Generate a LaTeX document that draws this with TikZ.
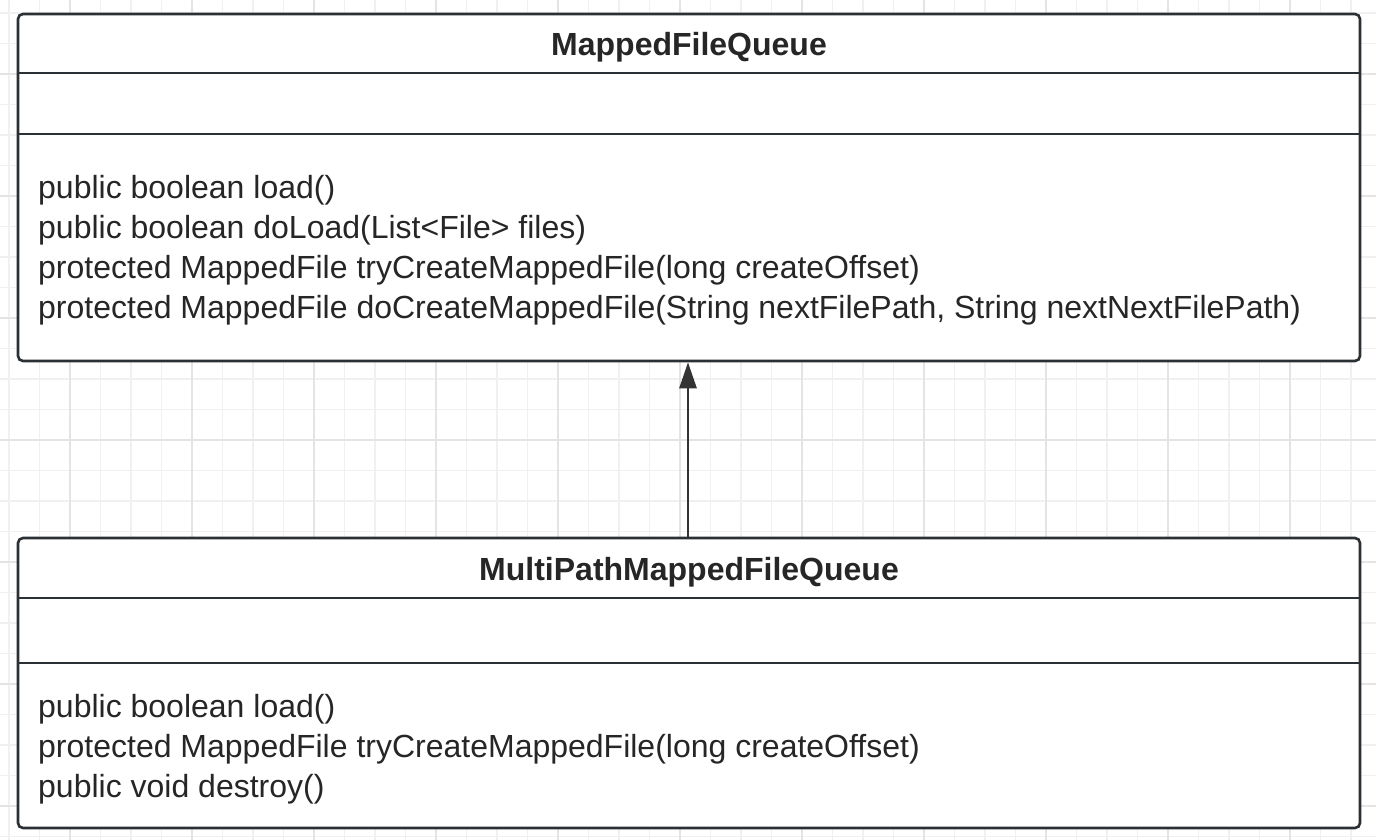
\documentclass[tikz,border=0pt]{standalone}
\usepackage{fontspec}
\setmainfont{Liberation Sans}
\usetikzlibrary{arrows.meta}
\definecolor{gridminor}{HTML}{F0F0F0}
\definecolor{gridmajor}{HTML}{E4E4E4}
\definecolor{boxline}{HTML}{2B3035}
\definecolor{arrowc}{HTML}{333333}
\tikzset{
  umlbox/.style={draw=boxline, line width=2.6pt, fill=white, rounded corners=5pt, inner sep=0pt},
  divider/.style={draw=boxline, line width=2.6pt},
  titletext/.style={font=\fontsize{32}{36}\selectfont\bfseries, text=black!85, inner sep=0pt, anchor=base},
  membertext/.style={font=\fontsize{32}{36}\selectfont, text=black!85, inner sep=0pt, anchor=base west},
  inherit/.style={draw=arrowc, line width=2.8pt, -{Triangle[length=26pt,width=17pt]}}
}
\begin{document}
\begin{tikzpicture}[x=1pt,y=-1pt]
\useasboundingbox (0,0) rectangle (1376,840);
\fill[white] (0,0) rectangle (1376,840);
% grid
\foreach \i in {0,...,44} {
  \pgfmathsetmacro\gx{9+30.5*\i}
  \draw[gridminor, line width=1.2pt] (\gx,0) -- (\gx,840);
}
\foreach \i in {0,...,27} {
  \pgfmathsetmacro\gy{13+30.5*\i}
  \draw[gridminor, line width=1.2pt] (0,\gy) -- (1376,\gy);
}
\foreach \i in {0,...,11} {
  \pgfmathsetmacro\gx{70+122*\i}
  \draw[gridmajor, line width=1.4pt] (\gx,0) -- (\gx,840);
}
\foreach \i in {-3,...,3} {
  \pgfmathsetmacro\gy{440+122*\i}
  \draw[gridmajor, line width=1.4pt] (0,\gy) -- (1376,\gy);
}
% top class
\node[umlbox, minimum width=1342pt, minimum height=347pt] (top) at (689,187.5) {};
\draw[divider] (top.west |- 0,73) -- (top.east |- 0,73);
\draw[divider] (top.west |- 0,134) -- (top.east |- 0,134);
\node[titletext] (toptitle) at (689,56) {MappedFileQueue};
\node[membertext] (t1) at (38,198) {public boolean load()};
\node[membertext] (t2) at (38,238) {public boolean doLoad(List<File> files)};
\node[membertext] (t3) at (38,278) {protected MappedFile tryCreateMappedFile(long createOffset)};
\node[membertext] (t4) at (38,318) {protected MappedFile doCreateMappedFile(String nextFilePath, String nextNextFilePath)};
% bottom class
\node[umlbox, minimum width=1342pt, minimum height=290pt] (bot) at (689,683) {};
\draw[divider] (bot.west |- 0,598) -- (bot.east |- 0,598);
\draw[divider] (bot.west |- 0,663) -- (bot.east |- 0,663);
\node[titletext] (bottitle) at (689,580) {MultiPathMappedFileQueue};
\node[membertext] (b1) at (38,717) {public boolean load()};
\node[membertext] (b2) at (38,757) {protected MappedFile tryCreateMappedFile(long createOffset)};
\node[membertext] (b3) at (38,797) {public void destroy()};
% inheritance
\draw[inherit] (bot.north -| 688,0) -- (top.south -| 688,0);
\end{tikzpicture}
\end{document}
